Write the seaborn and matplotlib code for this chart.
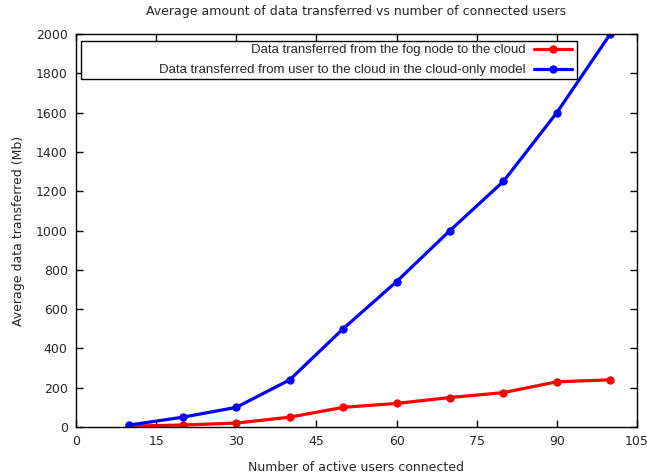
import matplotlib
matplotlib.use("Agg")
import matplotlib.pyplot as plt
from matplotlib.patches import Rectangle
import seaborn as sns
import pandas as pd

users = [10, 20, 30, 40, 50, 60, 70, 80, 90, 100]
fog_to_cloud = [5, 10, 20, 50, 100, 120, 150, 175, 230, 240]
user_to_cloud = [10, 50, 100, 240, 500, 740, 1000, 1250, 1600, 2000]
series_names = [
    "Data transferred from the fog node to the cloud",
    "Data transferred from user to the cloud in the cloud-only model",
]
x_ticks = [0, 15, 30, 45, 60, 75, 90, 105]
y_ticks = list(range(0, 2001, 200))

df = pd.DataFrame({
    "users": users * 2,
    "mb": fog_to_cloud + user_to_cloud,
    "series": [series_names[0]] * len(users) + [series_names[1]] * len(users),
})

sns.set_style("ticks")
plt.rcParams["font.family"] = ["DejaVu Sans"]

W, H = 647, 476
fig = plt.figure(figsize=(W / 100, H / 100), dpi=100)
# plot area in pixels: left 76, right 637, top 34, bottom 427
L, R, T, B = 76, 637, 34, 427
ax = fig.add_axes([L / W, 1 - B / H, (R - L) / W, (B - T) / H])

sns.lineplot(data=df, x="users", y="mb", hue="series",
             palette=["#ff0000", "#0000ff"], marker="o", markersize=6,
             markeredgewidth=0, linewidth=2.3, ax=ax)

ax.set_xlim(0, 105)
ax.set_ylim(0, 2000)
ax.set_xticks(x_ticks)
ax.set_yticks(y_ticks)
ax.tick_params(direction="in", top=True, right=True, length=5, width=1,
               labelsize=9, pad=6, color="black")
for s in ax.spines.values():
    s.set_visible(True)
    s.set_linewidth(1)
    s.set_color("black")

ax.set_title("Average amount of data transferred vs number of connected users",
             fontsize=9, pad=14)
ax.set_xlabel("Number of active users connected", fontsize=9, labelpad=9)
ax.set_ylabel("Average data transferred (Mb)", fontsize=9, labelpad=8)


def px_to_axes(px, py):
    return (px - L) / (R - L), (B - py) / (B - T)


# key box
bx0, by0 = px_to_axes(81, 79)
bx1, by1 = px_to_axes(577, 41)
ax.add_patch(Rectangle((bx0, by0), bx1 - bx0, by1 - by0, transform=ax.transAxes,
                       fill=True, facecolor="white", edgecolor="black",
                       linewidth=1, zorder=4))

handles, labels = ax.get_legend_handles_labels()
ax_x, ax_y = px_to_axes(572, 44)
leg = ax.legend(handles, labels, loc="upper right", bbox_to_anchor=(ax_x, ax_y),
                markerfirst=False, frameon=False,
                prop={"family": "Liberation Sans", "size": 9.5},
                handlelength=2.9, borderpad=0, labelspacing=0.6,
                handletextpad=0.6, borderaxespad=0)
leg.set_zorder(5)
for t in leg.get_texts():
    t.set_ha("right")
leg._legend_box.align = "right"

fig.savefig("out.png", dpi=100)
